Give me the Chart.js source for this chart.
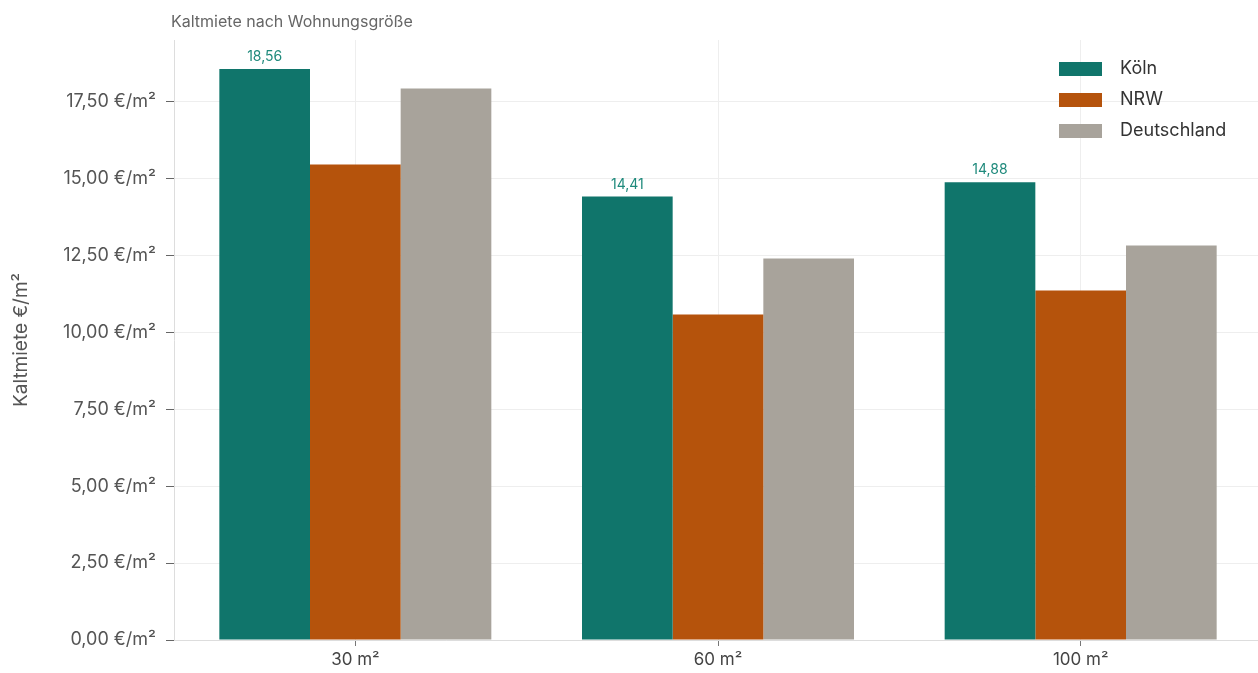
<!DOCTYPE html>
<html>
<head>
<meta charset="utf-8">
<script src="https://cdn.jsdelivr.net/npm/chart.js@4/dist/chart.umd.min.js"></script>
<style>
  html,body{margin:0;padding:0;background:#fff;overflow:hidden;}
  #wrap{width:1262px;height:673px;position:relative;}
</style>
</head>
<body>
<div id="wrap"><canvas id="c"></canvas></div>
<script>
// data
const categories = ["30 m²", "60 m²", "100 m²"];
const seriesNames = ["Köln", "NRW", "Deutschland"];
const koeln = [18.56, 14.41, 14.88];
const nrw = [15.45, 10.58, 11.36];
const deutschland = [17.92, 12.40, 12.82];
const yTicks = [0, 2.5, 5, 7.5, 10, 12.5, 15, 17.5];
const colors = ["#10756b", "#b5530c", "#a8a39b"];

const FONT = "Inter, 'DejaVu Sans', sans-serif";
const fmt = v => v.toFixed(2).replace(".", ",");

const titlePlugin = {
  id: "topTitle",
  afterDraw(chart){
    const ctx = chart.ctx;
    ctx.save();
    ctx.font = "16px " + FONT;
    ctx.fillStyle = "#666";
    ctx.textBaseline = "middle";
    ctx.textAlign = "left";
    ctx.fillText("Kaltmiete nach Wohnungsgröße", 171, 22);
    ctx.restore();
  }
};

// value labels over the Köln bars
const labelPlugin = {
  id: "koelnLabels",
  afterDatasetsDraw(chart){
    const ctx = chart.ctx;
    const meta = chart.getDatasetMeta(0);
    ctx.save();
    ctx.font = "14px " + FONT;
    ctx.fillStyle = "#1f8a7c";
    ctx.textAlign = "center";
    ctx.textBaseline = "bottom";
    meta.data.forEach((bar, i) => {
      ctx.fillText(fmt(koeln[i]), bar.x, bar.y - 5);
    });
    ctx.restore();
  }
};

const legendPlugin = {
  id: "boxLegend",
  afterDraw(chart){
    const ctx = chart.ctx;
    ctx.save();
    ctx.font = "18px " + FONT;
    ctx.textBaseline = "middle";
    ctx.textAlign = "left";
    seriesNames.forEach((name, i) => {
      const y = 69 + i * 31;
      ctx.fillStyle = colors[i];
      ctx.fillRect(1059, y - 7, 43, 14);
      ctx.fillStyle = "#333";
      ctx.fillText(name, 1120, y);
    });
    ctx.restore();
  }
};

new Chart(document.getElementById("c"), {
  type: "bar",
  data: {
    labels: categories,
    datasets: [
      {label: seriesNames[0], data: koeln, backgroundColor: colors[0]},
      {label: seriesNames[1], data: nrw, backgroundColor: colors[1]},
      {label: seriesNames[2], data: deutschland, backgroundColor: colors[2]},
    ]
  },
  options: {
    responsive: true,
    maintainAspectRatio: false,
    animation: false,
    layout: {padding: {top: 40, right: 0, left: 0, bottom: 0}},
    datasets: {bar: {categoryPercentage: 0.75, barPercentage: 1.0}},
    plugins: {legend: {display: false}, tooltip: {enabled: false}},
    scales: {
      x: {
        afterFit(scale){ scale.height = 33; },
        grid: {offset: false, color: "#eeeeee", tickColor: "#777", tickLength: 6},
        border: {color: "#dddddd"},
        ticks: {font: {size: 17, family: FONT}, color: "#444", padding: 4}
      },
      y: {
        min: 0,
        max: 19.5,
        afterFit(scale){ scale.width = 174; },
        afterBuildTicks(scale){ scale.ticks = yTicks.map(v => ({value: v})); },
        grid: {color: "#eeeeee", tickColor: "#666", tickLength: 8},
        border: {color: "#dddddd"},
        ticks: {
          font: {size: 18, family: FONT}, color: "#555", padding: 10,
          callback: v => fmt(v) + " €/m²"
        },
        title: {display: true, text: "Kaltmiete €/m²", font: {size: 19, family: FONT}, color: "#555", padding: {top: 10, bottom: 0}}
      }
    }
  },
  plugins: [titlePlugin, labelPlugin, legendPlugin]
});
</script>
</body>
</html>
